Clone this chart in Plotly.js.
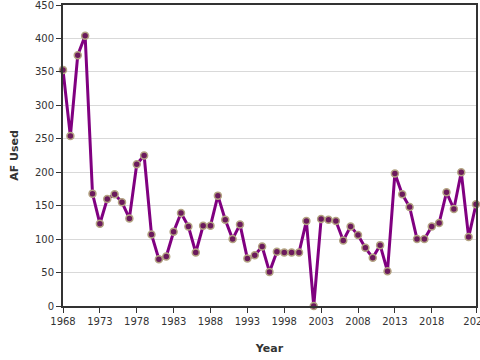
<!DOCTYPE html>
<html>
<head>
<meta charset="utf-8">
<script src="https://cdn.plot.ly/plotly-3.0.1.min.js"></script>
<style>html,body{margin:0;padding:0;background:#fff;}#chart{width:480px;height:360px;}</style>
</head>
<body>
<div id="chart"></div>
<script>
const years = [];
for (let y = 1968; y <= 2024; y++) years.push(y);
const afUsed = [353, 254, 375, 404, 168, 123, 160, 167, 155, 131, 212, 225, 107, 70,
  74, 111, 139, 119, 80, 120, 120, 165, 129, 100, 122, 71, 76, 89, 51, 81,
  80, 80, 80, 127, 0, 130, 129, 127, 98, 119, 106, 87, 72, 91, 52, 198,
  167, 148, 100, 100, 119, 124, 170, 145, 200, 103, 152];
const xTickVals = [1968, 1973, 1978, 1983, 1988, 1993, 1998, 2003, 2008, 2013, 2018, 2024];
const xTickText = ['1968', '1973', '1978', '1983', '1988', '1993', '1998', '2003', '2008', '2013', '2018', '2024'];

const trace = {
  x: years, y: afUsed, type: 'scatter', mode: 'lines+markers',
  line: {color: '#800080', width: 3},
  marker: {size: 7, color: '#6b1a5c', line: {color: '#b3a382', width: 1.5}},
  cliponaxis: false, hoverinfo: 'skip'
};
const font = {family: 'DejaVu Sans, Verdana, sans-serif', size: 10, color: '#333'};
const layout = {
  width: 480, height: 360,
  margin: {l: 63, r: 4, t: 5, b: 54},
  paper_bgcolor: '#fff', plot_bgcolor: '#fff',
  font: font, showlegend: false,
  xaxis: {
    range: [1968, 2024], tickvals: xTickVals, ticktext: xTickText,
    showgrid: false, zeroline: false, ticklabeloverflow: 'allow',
    showline: true, linecolor: '#333', linewidth: 2, mirror: true,
    ticks: 'outside', ticklen: 5, tickcolor: '#333', tickwidth: 1,
    tickfont: {family: 'DejaVu Sans, sans-serif', size: 10, color: '#333'},
    title: {text: 'Year', font: {family: 'DejaVu Sans, sans-serif', size: 11, color: '#333', weight: 'bold'}, standoff: 18}
  },
  yaxis: {
    range: [0, 450], dtick: 50, tick0: 0,
    showgrid: true, gridcolor: '#d9d9d9', gridwidth: 1, zeroline: false, ticklabeloverflow: 'allow',
    showline: true, linecolor: '#333', linewidth: 2, mirror: true,
    ticks: 'outside', ticklen: 5, tickcolor: '#333', tickwidth: 1,
    tickfont: {family: 'DejaVu Sans, sans-serif', size: 10, color: '#333'},
    title: {text: 'AF Used', font: {family: 'DejaVu Sans, sans-serif', size: 11, color: '#333', weight: 'bold'}, standoff: 14}
  }
};
Plotly.newPlot('chart', [trace], layout, {staticPlot: true, displayModeBar: false});
</script>
</body>
</html>
